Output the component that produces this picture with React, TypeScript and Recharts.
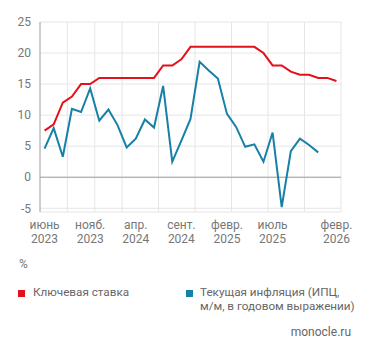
import { LineChart, Line, XAxis, YAxis, CartesianGrid, ReferenceLine } from "recharts";

// monthly, June 2023 .. Feb 2026
const keyRate = [
  7.5, 8.5, 12, 13, 15, 15, 16, 16, 16, 16, 16, 16, 16, 18, 18, 19, 21, 21, 21, 21, 21, 21, 21, 21, 20,
  18, 18, 17, 16.5, 16.5, 16, 16, 15.5,
];
const inflation = [
  4.6, 7.9, 3.3, 11, 10.5, 14.3, 9.1, 10.9, 8.4, 4.8, 6.2, 9.3, 8.0, 14.7, 2.5, 5.9, 9.4, 18.6, 17.2, 15.9,
  10.2, 8.1, 4.9, 5.3, 2.5, 7.2, -4.8, 4.2, 6.2, 5.2, 4.0,
];
const xTickIdx = [0, 5, 10, 15, 20, 25, 32];
const xTickLabels = [
  ["июнь", "2023"],
  ["нояб.", "2023"],
  ["апр.", "2024"],
  ["сент.", "2024"],
  ["февр.", "2025"],
  ["июль", "2025"],
  ["февр.", "2026"],
];
const yTicks = [-5, 0, 5, 10, 15, 20, 25];

const RED = "#e3111b";
const BLUE = "#1680a7";
const FONT = "Roboto, sans-serif";

const data = keyRate.map((v, i) => ({
  i,
  rate: v,
  cpi: i < inflation.length ? inflation[i] : undefined,
}));
const gridTicks = Array.from({ length: keyRate.length + 1 }, (_, k) => k - 0.5);

const MonthTick = (props: any) => {
  const { x, y, payload } = props;
  const k = xTickIdx.indexOf(payload.value);
  if (k < 0) return null;
  const [m, yr] = xTickLabels[k];
  return (
    <g fill="#777" fontSize={12} fontFamily={FONT} textAnchor="middle">
      <text x={x} y={y + 9}>{m}</text>
      <text x={x} y={y + 23}>{yr}</text>
    </g>
  );
};

export default function App() {
  return (
    <div style={{ position: "absolute", left: 0, top: 0, width: 371, height: 357, background: "#fff", fontFamily: FONT }}>
      <LineChart width={371} height={252} data={data} margin={{ top: 22, right: 30, left: 0, bottom: 5 }}>
        <XAxis xAxisId="grid" type="number" dataKey="i" domain={[-0.5, 32.5]} ticks={gridTicks} hide />
        <XAxis
          type="number"
          dataKey="i"
          domain={[-0.5, 32.5]}
          ticks={xTickIdx}
          interval={0}
          height={35}
          axisLine={false}
          tickLine={false}
          tick={<MonthTick />}
        />
        <YAxis
          width={40}
          domain={[-5.6, 25]}
          ticks={yTicks}
          interval={0}
          allowDataOverflow
          tickLine={false}
          tickMargin={3}
          axisLine={{ stroke: "#a8a8a8" }}
          tick={{ fontSize: 12, fill: "#777", fontFamily: FONT }}
        />
        <CartesianGrid xAxisId="grid" stroke="#e6e6e6" strokeWidth={1} />
        <ReferenceLine y={0} stroke="#a0a0a0" />
        <Line dataKey="rate" stroke={RED} strokeWidth={2} dot={false} isAnimationActive={false} />
        <Line dataKey="cpi" stroke={BLUE} strokeWidth={2} dot={false} isAnimationActive={false} />
      </LineChart>
      <div style={{ position: "absolute", left: 19, top: 257, fontSize: 12, lineHeight: "14px", color: "#777" }}>%</div>
      <div style={{ position: "absolute", left: 18, top: 290, width: 7, height: 7, background: RED }} />
      <div style={{ position: "absolute", left: 33, top: 285, fontSize: 11.7, lineHeight: "14px", color: "#666" }}>
        Ключевая ставка
      </div>
      <div style={{ position: "absolute", left: 186, top: 290, width: 7, height: 7, background: BLUE }} />
      <div style={{ position: "absolute", left: 200, top: 285, fontSize: 11.7, lineHeight: "14px", color: "#666" }}>
        Текущая инфляция (ИПЦ,
        <br />
        м/м, в годовом выражении)
      </div>
      <div style={{ position: "absolute", right: 20, top: 325, fontSize: 12, lineHeight: "14px", color: "#666" }}>
        monocle.ru
      </div>
    </div>
  );
}
